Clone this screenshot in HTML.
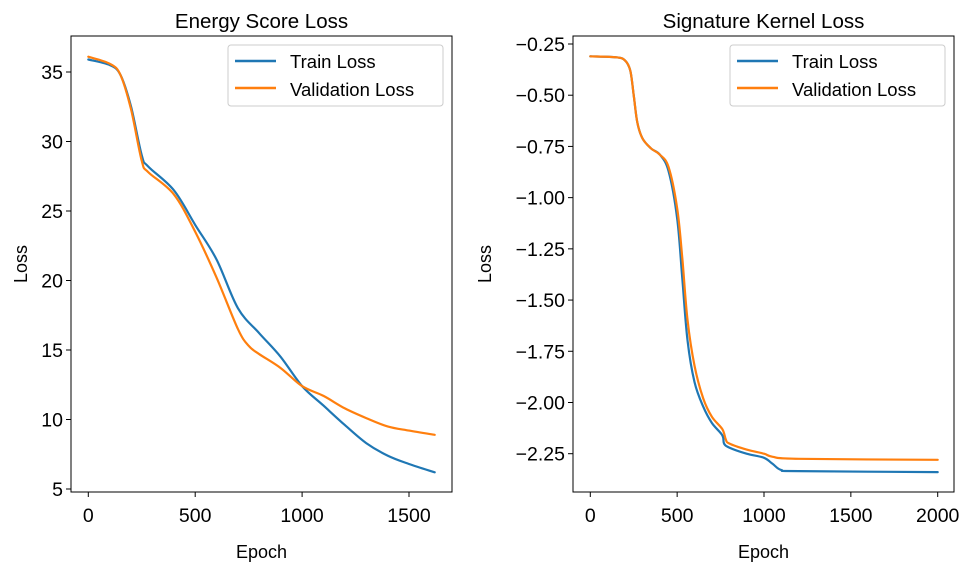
<!DOCTYPE html>
<html><head><meta charset="utf-8"><style>
body{margin:0;background:#fff}
svg{font-family:"Liberation Sans","DejaVu Sans",sans-serif}
</style></head><body>
<svg id="c" width="973" height="571" viewBox="0 0 973 571" xmlns="http://www.w3.org/2000/svg"></svg>
<script>
const leftEpochs=[0,100,150,200,250,280,400,500,600,700,800,900,1000,1100,1200,1300,1400,1500,1620];
const leftTrain=[35.9,35.5,34.8,32.5,29,28.2,26.5,24,21.5,18,16.2,14.5,12.4,11,9.6,8.3,7.4,6.8,6.2];
const leftValEpochs=[0,100,150,200,250,280,400,500,600,700,750,800,900,1000,1100,1200,1300,1400,1500,1620];
const leftVal=[36.1,35.6,34.8,32.3,28.6,27.8,26.2,23.5,20.2,16.5,15.3,14.7,13.7,12.4,11.7,10.8,10.1,9.5,9.2,8.9];
const leftXTicks=[0,500,1000,1500];
const leftYTicks=[5,10,15,20,25,30,35];
const rightTrainEpochs=[0,150,200,230,250,270,300,350,400,450,500,530,560,600,650,700,760,770,800,900,1000,1050,1100,1200,2000];
const rightTrain=[-0.31,-0.315,-0.33,-0.38,-0.5,-0.63,-0.71,-0.76,-0.79,-0.87,-1.1,-1.4,-1.7,-1.9,-2.02,-2.1,-2.16,-2.2,-2.22,-2.25,-2.27,-2.3,-2.33,-2.335,-2.34];
const rightValEpochs=[0,150,200,230,250,270,300,350,400,450,500,530,560,600,650,700,760,780,800,900,1000,1050,1200,2000];
const rightVal=[-0.31,-0.315,-0.33,-0.38,-0.5,-0.63,-0.71,-0.76,-0.79,-0.85,-1.05,-1.3,-1.6,-1.82,-1.98,-2.07,-2.13,-2.18,-2.2,-2.23,-2.25,-2.265,-2.275,-2.28];
const rightXTicks=[0,500,1000,1500,2000];
const rightYTicks=[-0.25,-0.5,-0.75,-1.0,-1.25,-1.5,-1.75,-2.0,-2.25];

const svg=document.getElementById('c');
const NS='http://www.w3.org/2000/svg';
function mk(tag,attrs,parent){const e=document.createElementNS(NS,tag);for(const k in attrs)e.setAttribute(k,attrs[k]);(parent||svg).appendChild(e);return e;}
function txt(s,attrs,name){const t=mk('text',attrs);t.textContent=s;


return t;}
function smooth(P){
  let d='M'+P[0][0].toFixed(1)+','+P[0][1].toFixed(1);
  for(let i=0;i<P.length-1;i++){
    const p0=P[i-1]||P[i],p1=P[i],p2=P[i+1],p3=P[i+2]||P[i+1];
    const c1=[p1[0]+(p2[0]-p0[0])/6,p1[1]+(p2[1]-p0[1])/6];
    const c2=[p2[0]-(p3[0]-p1[0])/6,p2[1]-(p3[1]-p1[1])/6];
    d+=' C'+c1[0].toFixed(1)+','+c1[1].toFixed(1)+' '+c2[0].toFixed(1)+','+c2[1].toFixed(1)+' '+p2[0].toFixed(1)+','+p2[1].toFixed(1);
  }
  return d;
}

function panel(o){
  const sx=v=>o.x0px+(v-o.x0v)*o.xs;
  const sy=v=>o.y0px+(v-o.y0v)*o.ys;
  const g=mk('g',{});
  
  
  const series=[[o.tx,o.ty,'#1f77b4','train-loss-line'],[o.vx,o.vy,'#ff7f0e','validation-loss-line']];
  series.forEach(s=>{
    const P=s[0].map((e,i)=>[sx(e),sy(s[1][i])]);
    const p=mk('path',{d:smooth(P),fill:'none',stroke:s[2],'stroke-width':2.2,'stroke-linejoin':'round','stroke-linecap':'round'},g);
    
    
  });
  const fr=mk('rect',{x:o.L,y:o.T,width:o.R-o.L,height:o.B-o.T,fill:'none',stroke:'#000','stroke-width':1});
  
  
  o.xt.forEach(v=>{const x=sx(v);mk('line',{x1:x,x2:x,y1:o.B,y2:o.B+5,stroke:'#000'});
    txt(String(v),{x:x,y:o.B+30,'font-size':19.5,'text-anchor':'middle'},o.id+'-x-tick-label');});
  o.yt.forEach(v=>{const y=sy(v);mk('line',{x1:o.L,x2:o.L-5,y1:y,y2:y,stroke:'#000'});
    txt(o.fmt(v),{x:o.L-8,y:y+7,'font-size':19.5,'text-anchor':'end'},o.id+'-y-tick-label');});
  txt('Epoch',{x:(o.L+o.R)/2,y:558,'font-size':18,'text-anchor':'middle'},o.id+'-x-axis-title');
  txt('Loss',{x:0,y:0,'font-size':18,'text-anchor':'middle',transform:'translate('+o.ylx+','+((o.T+o.B)/2)+') rotate(-90)'},o.id+'-y-axis-title');
  txt(o.title,{x:(o.L+o.R)/2,y:28,'font-size':20.5,'text-anchor':'middle'},o.id+'-title');
  const lg=mk('g',{});
  
  
  mk('rect',{x:o.lgx,y:45,width:215,height:61,rx:3,fill:'#fff',stroke:'#ccc','stroke-width':1},lg);
  mk('line',{x1:o.lgx+7,x2:o.lgx+48,y1:61,y2:61,stroke:'#1f77b4','stroke-width':2.5},lg);
  mk('line',{x1:o.lgx+7,x2:o.lgx+48,y1:88,y2:88,stroke:'#ff7f0e','stroke-width':2.5},lg);
  txt('Train Loss',{x:o.lgx+62,y:68,'font-size':18.5},o.id+'-legend-train');
  txt('Validation Loss',{x:o.lgx+62,y:96,'font-size':18.5},o.id+'-legend-validation');
}
panel({id:'energy',L:71,R:452,T:36,B:492,x0px:88.3,x0v:0,xs:106.9/500,y0px:72,y0v:35,ys:-417/30,
  tx:leftEpochs,ty:leftTrain,vx:leftValEpochs,vy:leftVal,xt:leftXTicks,yt:leftYTicks,fmt:v=>String(v),
  ylx:27,title:'Energy Score Loss',lgx:228});
panel({id:'signature',L:573,R:954,T:36,B:492,x0px:590.3,x0v:0,xs:347.4/2000,y0px:44,y0v:-0.25,ys:-409.7/2,
  tx:rightTrainEpochs,ty:rightTrain,vx:rightValEpochs,vy:rightVal,xt:rightXTicks,yt:rightYTicks,fmt:v=>'\u2212'+Math.abs(v).toFixed(2),
  ylx:491,title:'Signature Kernel Loss',lgx:730});
</script>
</body></html>
